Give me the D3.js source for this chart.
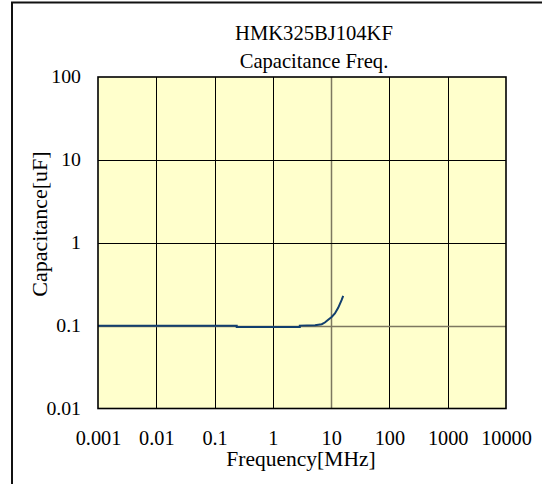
<!DOCTYPE html>
<html><head><meta charset="utf-8">
<script src="https://cdn.jsdelivr.net/npm/d3@7"></script>
<style>html,body{margin:0;padding:0;background:#fff;}svg{display:block;}
svg text{font-family:"Liberation Serif","Times New Roman","DejaVu Serif",serif !important;}</style>
</head><body>
<svg id="c" width="542" height="484"></svg>
<script>
const titleLines = ["HMK325BJ104KF", "Capacitance Freq."];
const xTickValues = [0.001, 0.01, 0.1, 1, 10, 100, 1000, 10000];
const xTickLabels = ["0.001", "0.01", "0.1", "1", "10", "100", "1000", "10000"];
const yTickValues = [0.01, 0.1, 1, 10, 100];
const yTickLabels = ["0.01", "0.1", "1", "10", "100"];
const xTitle = "Frequency[MHz]";
const yTitle = "Capacitance[uF]";
const freq = [0.001, 0.01, 0.1, 0.24, 0.24, 1, 2.9, 2.9, 5.3, 6.9, 7.8, 8.9, 10.2, 11.6, 13.2, 15.1, 16.1];
const cap  = [0.1, 0.1, 0.1, 0.1, 0.096, 0.096, 0.096, 0.1, 0.101, 0.104, 0.109, 0.118, 0.127, 0.140, 0.164, 0.203, 0.229];

const svg = d3.select("#c");
const font = "Liberation Serif";
const L = 98, R = 506, T = 77, B = 408.5;
const x = d3.scaleLog().domain([0.001, 10000]).range([L, R]);
const y = d3.scaleLog().domain([0.01, 100]).range([B, T]);

// outer frame
svg.append("rect").attr("x", 12).attr("y", 2.5).attr("width", 600).attr("height", 600)
  .attr("fill", "none").attr("stroke", "#111").attr("stroke-width", 2);

// plot bg
svg.append("rect").attr("x", L).attr("y", T).attr("width", R - L).attr("height", B - T)
  .attr("fill", "#ffffcc");

// grid
const soft = "#7d7860";
const g = svg.append("g");
g.selectAll("line.vx").data(xTickValues.slice(1, -1)).enter().append("line")
  .attr("x1", d => Math.round(x(d)) + 0.5).attr("x2", d => Math.round(x(d)) + 0.5)
  .attr("y1", T).attr("y2", B).attr("stroke", d => d === 10 ? soft : "#000").attr("stroke-width", d => d === 10 ? 1.5 : 1);
g.selectAll("line.hy").data(yTickValues.slice(1, -1)).enter().append("line")
  .attr("y1", d => Math.round(y(d)) + 0.5).attr("y2", d => Math.round(y(d)) + 0.5)
  .attr("x1", L).attr("x2", R).attr("stroke", d => d === 0.1 ? soft : "#000").attr("stroke-width", d => d === 0.1 ? 1.5 : 1);

// curve
const line = d3.line().x((d, i) => x(freq[i])).y((d, i) => y(cap[i]));
svg.append("path").datum(freq).attr("d", line).attr("fill", "none")
  .attr("stroke", "#123f6e").attr("stroke-width", 2);

// plot border
svg.append("rect").attr("x", L).attr("y", T).attr("width", R - L).attr("height", B - T)
  .attr("fill", "none").attr("stroke", "#000").attr("stroke-width", 1.6);

// axes labels
const xAxis = d3.axisBottom(x).tickValues(xTickValues).tickSize(0)
  .tickFormat((d, i) => xTickLabels[i]);
const xa = svg.append("g").attr("transform", `translate(0,${B + 19})`).call(xAxis);
xa.attr("font-family", font);
xa.select(".domain").remove();
xa.selectAll("text").attr("font-size", 20.3).attr("fill", "#000");

const yAxis = d3.axisLeft(y).tickValues(yTickValues).tickSize(0)
  .tickFormat((d, i) => yTickLabels[i]);
const ya = svg.append("g").attr("transform", `translate(${L - 14},0)`).call(yAxis);
ya.attr("font-family", font);
ya.select(".domain").remove();
ya.selectAll("text").attr("font-size", 19.8).attr("fill", "#000")
  .attr("dy", "0.28em");

// titles
svg.selectAll("text.title").data(titleLines).enter().append("text")
  .attr("x", 314).attr("y", (d, i) => 40 + i * 28.3).attr("text-anchor", "middle")
  .attr("font-family", font).attr("font-size", 20.6).text(d => d);

svg.append("text").attr("x", 301).attr("y", 466).attr("text-anchor", "middle")
  .attr("font-family", font).attr("font-size", 21.5).text(xTitle);

svg.append("text").attr("transform", `translate(46.5,224) rotate(-90)`)
  .attr("text-anchor", "middle").attr("font-family", font).attr("font-size", 22).text(yTitle);
</script>
</body></html>
